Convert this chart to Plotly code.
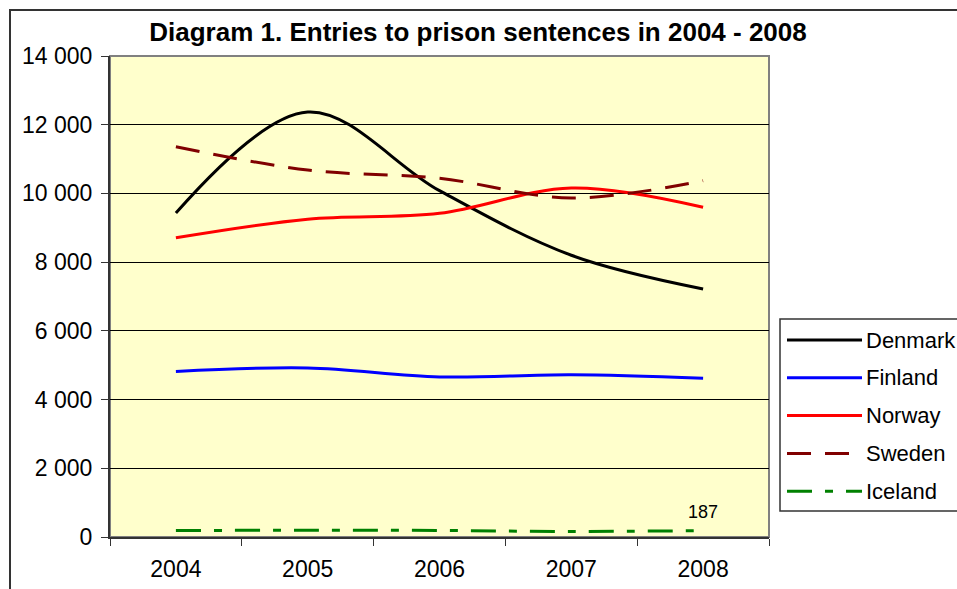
import plotly.graph_objects as go

# Entries to prison sentences, Nordic countries 2004-2008
years = ["2004", "2005", "2006", "2007", "2008"]
denmark = [9430, 12370, 10080, 8200, 7220]
finland = [4820, 4920, 4660, 4720, 4620]
norway = [8710, 9250, 9420, 10160, 9600]
sweden = [11360, 10680, 10440, 9870, 10370]
iceland = [190, 195, 190, 160, 187]

series = [
    ("Denmark", denmark, "#000000", "solid"),
    ("Finland", finland, "#0000FF", "solid"),
    ("Norway", norway, "#FF0000", "solid"),
    ("Sweden", sweden, "#800000", "24px,14px"),
    ("Iceland", iceland, "#008000", "25px,13px,8px,13px"),
]

font = "Arial, Liberation Sans, sans-serif"

W, H = 957, 589
L, R, T, B = 110, 769, 56, 537  # plot area in pixels


def px(xw):
    return (xw - L) / (R - L)


def py(yw):
    return 1 - (yw - T) / (B - T)


fig = go.Figure()
for name, vals, color, dash in series:
    fig.add_trace(
        go.Scatter(
            x=years,
            y=vals,
            name=name,
            mode="lines",
            line=dict(color=color, width=3, dash=dash, shape="spline", smoothing=1),
            showlegend=False,
        )
    )

# label on the last Iceland value (category index, so "2008" is not read as a number)
fig.add_annotation(
    xref="x", yref="y", x=len(years) - 1, y=iceland[-1], text=str(iceland[-1]),
    showarrow=False, yshift=19,
    font=dict(size=18, color="black", family=font),
)

# outer chart frame
fig.add_shape(
    type="rect", xref="paper", yref="paper",
    x0=px(10), x1=px(1000), y0=py(660), y1=py(10),
    line=dict(color="#333333", width=2), layer="below",
)
# gray frame round the plot area
fig.add_shape(
    type="rect", xref="paper", yref="paper", x0=0, x1=1, y0=0, y1=1,
    line=dict(color="#808080", width=2), layer="below",
)

# legend box, running off the right edge like the original
fig.add_shape(
    type="rect", xref="paper", yref="paper",
    x0=px(780), x1=px(1000), y0=py(511), y1=py(319),
    line=dict(color="#333333", width=1.5), fillcolor="white", layer="above",
)
for i, (name, vals, color, dash) in enumerate(series):
    yc = py(340 + i * 37.8)
    fig.add_shape(
        type="line", xref="paper", yref="paper",
        x0=px(787), x1=px(862), y0=yc, y1=yc,
        line=dict(color=color, width=3, dash=dash), layer="above",
    )
    fig.add_annotation(
        xref="paper", yref="paper", x=px(864), y=yc, text=name,
        xanchor="left", yanchor="middle", showarrow=False,
        font=dict(size=22, color="black", family=font),
    )

fig.update_layout(
    width=W,
    height=H,
    margin=dict(l=L, r=W - R, t=T, b=H - B),
    paper_bgcolor="white",
    plot_bgcolor="#FFFFCC",
    separators=". ",
    font=dict(family=font, size=23, color="black"),
    title=dict(
        text="<b>Diagram 1. Entries to prison sentences in 2004 - 2008</b>",
        x=478 / W, xanchor="center", xref="container",
        y=1 - 32 / H, yanchor="middle",
        font=dict(size=26, family=font),
    ),
    showlegend=False,
)
fig.update_xaxes(
    type="category", range=[-0.5, 4.5], automargin=False,
    showline=True, linecolor="#333333", linewidth=2,
    ticks="outside", ticklen=7, tickcolor="#333333", tickson="boundaries",
    showgrid=False, ticklabelstandoff=10,
)
fig.update_yaxes(
    range=[0, 14000], dtick=2000, tickformat=",", automargin=False,
    showline=True, linecolor="#333333", linewidth=2,
    ticks="outside", ticklen=7, tickcolor="#333333",
    gridcolor="black", gridwidth=1, zeroline=False,
    ticklabelstandoff=4,
)

# drop the page's default body margin so the figure fills the window
fig.write_html(
    "out.html",
    config={"displayModeBar": False},
    post_script="document.body.style.margin='0';document.body.style.overflow='hidden';",
)
